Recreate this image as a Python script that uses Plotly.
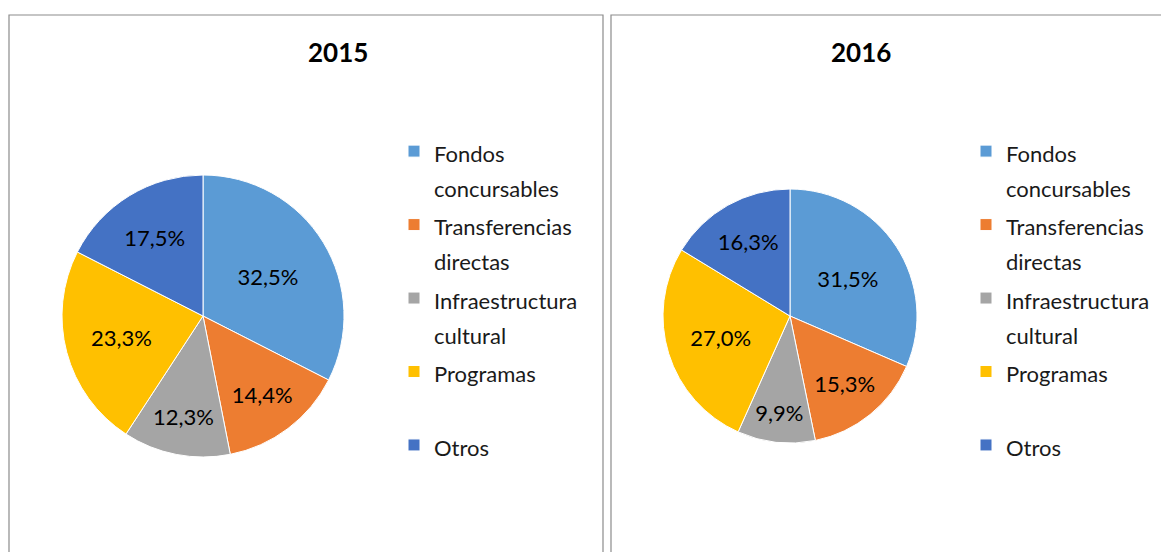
import plotly.graph_objects as go

categories = ["Fondos<br>concursables", "Transferencias<br>directas", "Infraestructura<br>cultural", "Programas", "Otros"]
values_2015 = [32.5, 14.4, 12.3, 23.3, 17.5]
values_2016 = [31.5, 15.3, 9.9, 27.0, 16.3]
colors = ["#5B9BD5", "#ED7D31", "#A5A5A5", "#FFC000", "#4472C4"]
titles = ["2015", "2016"]

W, H = 1161, 552
FONT = "Lato, 'Open Sans', sans-serif"
LEG_SPAN = 22


def legend_label(lbl, panel):
    # each entry takes two legend lines so every item gets the same height;
    # the style suffix keeps the two panels' entries distinct (pie legends merge equal labels)
    parts = lbl.split("<br>")
    while len(parts) < 2:
        parts.append(" ")
    style = "font-size:%dpx" % LEG_SPAN + (";" if panel == 2 else "")
    return "<br>".join("<span style='%s'>%s</span>" % (style, p) for p in parts)


labels_2015 = [legend_label(c, 1) for c in categories]
labels_2016 = [legend_label(c, 2) for c in categories]


def px_x(v):
    return v / W


def px_y(v):
    return 1 - v / H


fig = go.Figure()
fig.add_trace(go.Pie(
    labels=labels_2015, values=values_2015, sort=False, direction="clockwise", rotation=0,
    marker=dict(colors=colors, line=dict(color="white", width=1)),
    texttemplate="%{value:.1f}%", textposition="inside", insidetextorientation="horizontal",
    textfont=dict(size=22, color="black", family=FONT),
    domain=dict(x=[px_x(62), px_x(344)], y=[px_y(457), px_y(175)]),
    legend="legend", hoverinfo="percent",
))
fig.add_trace(go.Pie(
    labels=labels_2016, values=values_2016, sort=False, direction="clockwise", rotation=0,
    marker=dict(colors=colors, line=dict(color="white", width=1)),
    texttemplate="%{value:.1f}%", textposition="inside", insidetextorientation="horizontal",
    textfont=dict(size=22, color="black", family=FONT),
    domain=dict(x=[px_x(662), px_x(918)], y=[px_y(443), px_y(189)]),
    legend="legend2", hoverinfo="percent",
))

legend_common = dict(
    font=dict(size=27.1, color="#1a1a1a", family=FONT),
    valign="top", bgcolor="rgba(0,0,0,0)", xanchor="left", yanchor="top",
    itemclick=False, itemdoubleclick=False,
)

fig.update_layout(
    width=W, height=H,
    margin=dict(l=0, r=0, t=0, b=0),
    paper_bgcolor="white",
    separators=",.",
    showlegend=True,
    uniformtext=dict(minsize=22, mode="show"),
    legend=dict(x=px_x(394), y=px_y(127), **legend_common),
    legend2=dict(x=px_x(966), y=px_y(127), **legend_common),
    shapes=[
        dict(type="rect", xref="paper", yref="paper", x0=px_x(9), x1=px_x(603), y0=-0.1, y1=px_y(15),
             line=dict(color="#8c8c8c", width=1.2), fillcolor="rgba(0,0,0,0)"),
        dict(type="rect", xref="paper", yref="paper", x0=px_x(611), x1=1.1, y0=-0.1, y1=px_y(15),
             line=dict(color="#8c8c8c", width=1.2), fillcolor="rgba(0,0,0,0)"),
    ],
    annotations=[
        dict(text="<b>" + titles[0] + "</b>", x=px_x(306), y=px_y(52), xref="paper", yref="paper",
             yanchor="middle", showarrow=False, font=dict(size=26, color="black", family=FONT)),
        dict(text="<b>" + titles[1] + "</b>", x=px_x(893), y=px_y(52), xref="paper", yref="paper",
             yanchor="middle", showarrow=False, font=dict(size=26, color="black", family=FONT)),
    ],
)

fig.write_html("out.html", config={"displayModeBar": False},
               post_script="document.body.style.margin='0';")
